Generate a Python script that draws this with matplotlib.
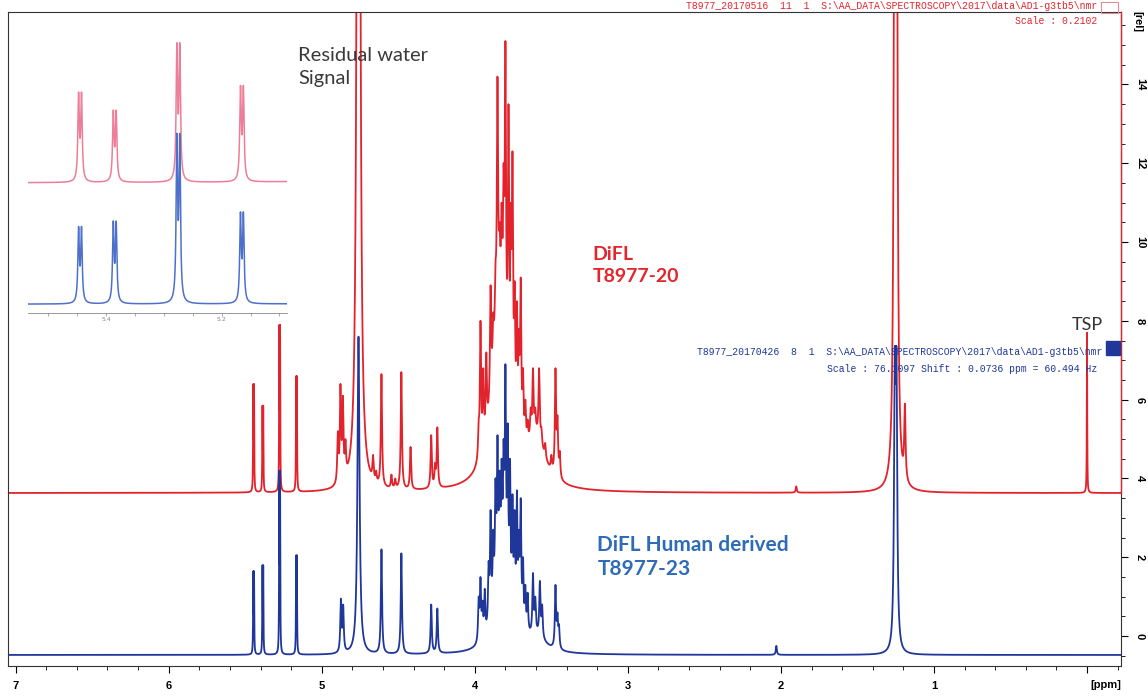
import matplotlib
matplotlib.use('Agg')
import matplotlib.pyplot as plt
from matplotlib.patches import Rectangle
from matplotlib.ticker import MultipleLocator, FixedLocator
import numpy as np

# ---- peak tables: position (ppm), top of line (rel), half width (ppm) ----
red_base = 3.63
red_ppm = [5.4475, 5.4425, 5.3875, 5.3825, 5.2775, 5.2725, 5.1675, 5.1625,
           4.895, 4.878, 4.862, 4.845, 4.76,
           4.665, 4.645, 4.61, 4.545, 4.52, 4.48, 4.42, 4.285, 4.26, 4.245,
           3.975, 3.963, 3.945, 3.925, 3.897, 3.88, 3.865, 3.852, 3.838, 3.825,
           3.812, 3.80, 3.78, 3.765, 3.754, 3.74, 3.725, 3.712, 3.70, 3.685,
           3.67, 3.655, 3.635, 3.62, 3.605, 3.58, 3.565, 3.54, 3.50, 3.473,
           3.46, 3.445,
           1.9, 1.256, 1.245, 1.19, 0.0]
red_top = [6.4, 6.4, 5.85, 5.85, 7.9, 7.9, 6.6, 6.6,
           5.2, 6.4, 6.1, 5.0, 65.0,
           4.6, 4.2, 6.65, 4.1, 4.0, 6.7, 4.8, 5.1, 4.4, 5.3,
           5.5, 8.0, 6.8, 7.2, 8.9, 8.2, 9.5, 14.2, 10.5, 11.0,
           12.0, 15.1, 13.5, 11.0, 12.3, 9.0, 8.5, 7.8, 9.1, 6.8,
           6.0, 5.5, 5.8, 6.8, 5.8, 6.8, 5.3, 4.9, 4.6, 6.8,
           5.6, 4.7,
           3.8, 30.0, 30.0, 5.9, 7.7]
red_hw = [0.0015] * 8 + [0.0045] * 4 + [0.007] + [0.0045] * 42 + \
         [0.004, 0.006, 0.006, 0.005, 0.0015]

# broad unresolved background under the ring-proton envelope
red_hump_ppm = [3.84, 3.60]
red_hump_height = [4.5, 1.2]
red_hump_hw = [0.055, 0.07]

blue_base = -0.48
blue_ppm = [5.4475, 5.4425, 5.3875, 5.3825, 5.2775, 5.2725, 5.1675, 5.1625,
            4.875, 4.86, 4.76, 4.61, 4.48, 4.285, 4.245,
            3.975, 3.963, 3.95, 3.935, 3.91, 3.897, 3.88, 3.865, 3.852, 3.838,
            3.825, 3.812, 3.80, 3.785, 3.77, 3.754, 3.74, 3.725, 3.712, 3.70,
            3.685, 3.67, 3.655, 3.62, 3.605, 3.575, 3.56, 3.473, 3.46, 3.45,
            2.03, 1.256, 1.245]
blue_top = [1.65, 1.65, 1.8, 1.8, 4.2, 4.2, 2.05, 2.05,
            0.95, 0.8, 7.6, 2.2, 2.1, 0.8, 0.7,
            1.0, 1.5, 0.9, 1.2, 1.9, 3.2, 2.7, 4.0, 5.1, 4.2,
            4.5, 5.0, 6.9, 5.4, 4.5, 3.6, 3.2, 3.7, 2.7, 3.5,
            2.0, 1.3, 1.1, 1.6, 1.0, 1.4, 0.8, 1.3, 0.6, 0.3,
            -0.25, 7.3, 7.3]
blue_hw = [0.0015] * 8 + [0.0045, 0.0045, 0.008] + [0.0045] * 34 + \
          [0.004, 0.006, 0.006]

blue_hump_ppm = [3.83, 3.60]
blue_hump_height = [1.8, 0.4]
blue_hump_hw = [0.05, 0.07]

# axis ranges
ppm_min, ppm_max = -0.222, 7.05
rel_min, rel_max = -0.76, 15.84
inset_ppm_min, inset_ppm_max = 5.087, 5.535

red_hdr = ["T8977_20170516  11  1  S:\\AA_DATA\\SPECTROSCOPY\\2017\\data\\AD1-g3tb5\\nmr",
           "Scale : 0.2102"]
blue_hdr = ["T8977_20170426  8  1  S:\\AA_DATA\\SPECTROSCOPY\\2017\\data\\AD1-g3tb5\\nmr",
            "Scale : 76.1097 Shift : 0.0736 ppm = 60.494 Hz"]

RED = '#e3232c'
BLUE = '#20379a'


def lorentz(x, c, w):
    return w ** 2 / ((x - c) ** 2 + w ** 2)


def background(x, centers, heights, widths):
    y = np.zeros_like(x, dtype=float)
    for c, h, w in zip(centers, heights, widths):
        y += h * lorentz(x, c, w)
    return y


def spectrum(x, centers, tops, widths, base, hump):
    # sharp lorentzian lines over a broad background; the line amplitudes are
    # solved so that the summed trace passes through each listed top
    c = np.asarray(centers)
    w = np.asarray(widths)
    m = lorentz(c[:, None], c[None, :], w[None, :])
    target = np.asarray(tops) - base - background(c, *hump)
    amps = np.clip(np.linalg.solve(m, target), 0, None)
    y = base + background(x, *hump)
    for ci, ai, wi in zip(c, amps, w):
        y += ai * lorentz(x, ci, wi)
    return y


red_hump = (red_hump_ppm, red_hump_height, red_hump_hw)
blue_hump = (blue_hump_ppm, blue_hump_height, blue_hump_hw)

x = np.linspace(ppm_max, ppm_min, 40000)
red_y = spectrum(x, red_ppm, red_top, red_hw, red_base, red_hump)
blue_y = spectrum(x, blue_ppm, blue_top, blue_hw, blue_base, blue_hump)

fig = plt.figure(figsize=(11.48, 6.98), dpi=100)
ax = fig.add_axes([8 / 1148, 32 / 698, 1113 / 1148, 654 / 698])

ax.plot(x, red_y, color=RED, lw=1.3, zorder=2)
ax.plot(x, blue_y, color=BLUE, lw=1.3, zorder=3)

ax.set_xlim(ppm_max, ppm_min)
ax.set_ylim(rel_min, rel_max)

# x axis: labels 7..1, unit text instead of 0
ax.xaxis.set_major_locator(FixedLocator(range(0, 8)))
ax.xaxis.set_minor_locator(MultipleLocator(0.2))
ax.set_xticklabels(['', '1', '2', '3', '4', '5', '6', '7'])
ax.tick_params(axis='x', which='major', direction='out', length=5, width=0.8,
               labelsize=8, pad=6)
ax.tick_params(axis='x', which='minor', direction='out', length=3, width=0.6)

# y axis on the right, rotated labels
ax.yaxis.tick_right()
ax.yaxis.set_major_locator(MultipleLocator(2))
ax.yaxis.set_minor_locator(MultipleLocator(0.5))
ax.tick_params(axis='y', which='major', direction='out', length=5, width=0.8,
               labelsize=8, pad=5, labelrotation=-90)
ax.tick_params(axis='y', which='minor', direction='out', length=3, width=0.6)
for lab in ax.get_xticklabels() + ax.get_yticklabels():
    lab.set_fontfamily('Liberation Sans')
    lab.set_fontweight('bold')
for lab in ax.get_yticklabels():
    lab.set_va('center')
for sp in ax.spines.values():
    sp.set_linewidth(0.8)
    sp.set_color('#333333')

ax.text(1.0, -0.029, '[ppm]', transform=ax.transAxes, ha='right', va='center',
        fontsize=8, fontweight='bold', family='Liberation Sans')
ax.text(1.015, 0.985, '[rel]', transform=ax.transAxes, ha='center', va='center',
        fontsize=8, fontweight='bold', family='Liberation Sans', rotation=-90)

# TopSpin style markers on the right edge
ax.plot([ppm_min, ppm_min], [red_base, rel_max], color=RED, lw=1.0,
        clip_on=False, zorder=4)
ax.plot([ppm_min + 0.05], [7.31], marker='s', markersize=10.5, color=BLUE,
        clip_on=False, zorder=5)
fig.patches.append(Rectangle((1101 / 1148, 1 - 13 / 698), 17 / 1148, 11 / 698,
                             transform=fig.transFigure, fill=False,
                             edgecolor='#e88a94', lw=0.8))

# dataset headers
ax.text(-0.07, 16.0, red_hdr[0], ha='right', va='center', color=RED,
        fontsize=7, family='Liberation Mono', clip_on=False)
ax.text(-0.07, 15.62, red_hdr[1], ha='right', va='center', color=RED,
        fontsize=7, family='Liberation Mono')
ax.text(-0.1, 7.21, blue_hdr[0], ha='right', va='center', color=BLUE,
        fontsize=7, family='Liberation Mono')
ax.text(-0.07, 6.79, blue_hdr[1], ha='right', va='center', color=BLUE,
        fontsize=7, family='Liberation Mono')

# annotations
ax.text(5.152, 14.45, 'Residual water\nSignal', ha='left', va='center',
        fontsize=14.5, color='#3a3a3a', family='Lato', linespacing=1.4)
ax.text(3.231, 9.40, 'DiFL\nT8977-20', ha='left', va='center', fontsize=14,
        color='#e3262c', family='Lato', fontweight='bold', linespacing=1.35)
ax.text(3.199, 2.0, 'DiFL Human derived\nT8977-23', ha='left', va='center',
        fontsize=15, color='#2f6cb8', family='Lato', fontweight='bold',
        linespacing=1.25)
ax.text(0.0, 7.69, 'TSP', ha='center', va='bottom', fontsize=13,
        color='#333333', family='Lato')

# inset: expanded anomeric region
axi = fig.add_axes([28 / 1148, 1 - 313 / 698, 259 / 1148, 288 / 698])
xi = np.linspace(inset_ppm_max, inset_ppm_min, 6000)
red_i = spectrum(xi, red_ppm, red_top, red_hw, red_base, red_hump)
blue_i = spectrum(xi, blue_ppm, blue_top, blue_hw, blue_base, blue_hump)
axi.plot(xi, (red_i - red_base) * 0.9 + 2.84, color='#ee7d97', lw=1.1)
axi.plot(xi, blue_i, color='#4d70cc', lw=1.1)
axi.set_xlim(inset_ppm_max, inset_ppm_min)
axi.set_ylim(-0.72, 7.17)
for side in ['top', 'left', 'right']:
    axi.spines[side].set_visible(False)
axi.spines['bottom'].set_color('#888888')
axi.spines['bottom'].set_linewidth(0.6)
axi.set_yticks([])
axi.xaxis.set_major_locator(FixedLocator([5.4, 5.2]))
axi.xaxis.set_minor_locator(MultipleLocator(0.05))
axi.set_xticklabels(['5.4', '5.2'])
axi.tick_params(axis='x', which='both', direction='out', length=2, width=0.5,
                colors='#888888', labelsize=4.5, pad=1)

fig.savefig('out.png', dpi=100)
